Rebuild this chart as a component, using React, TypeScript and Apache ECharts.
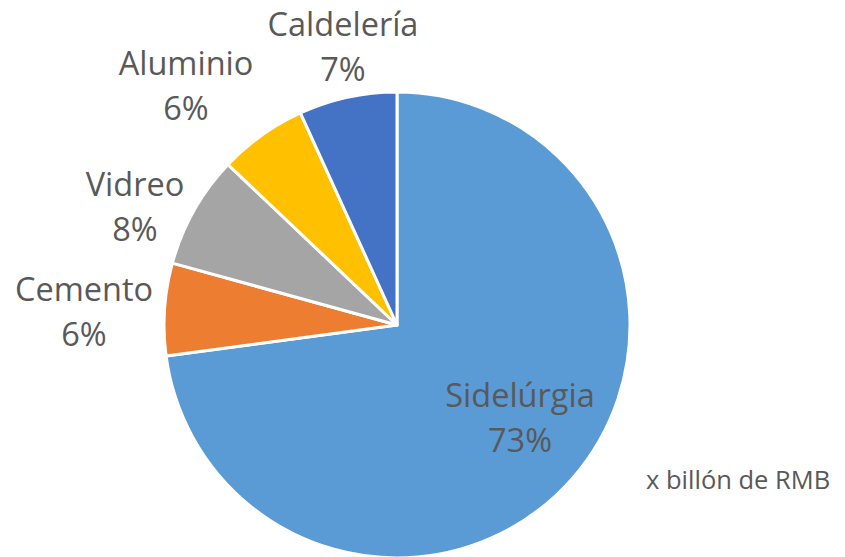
import React, { useEffect, useRef } from "react";
import * as echarts from "echarts";

const categories = ["Sidelúrgia", "Cemento", "Vidreo", "Aluminio", "Caldelería"];
const values = [72.8, 6.4, 7.8, 6.1, 6.8];
const colors = ["#5B9BD5", "#ED7D31", "#A5A5A5", "#FFC000", "#4472C4"];
const unitNote = "x billón de RMB";

// label anchor positions (layout only)
const labelPos: [number, number][] = [
  [520, 417],
  [84, 311],
  [135, 206],
  [186, 85],
  [343, 46],
];

const FONT = "Open Sans";

export default function App() {
  const ref = useRef<HTMLDivElement>(null);
  useEffect(() => {
    if (!ref.current) return;
    const chart = echarts.init(ref.current, undefined, { renderer: "svg" });
    chart.setOption({
      animation: false,
      backgroundColor: "#ffffff",
      textStyle: { fontFamily: FONT },
      graphic: [
        {
          type: "text",
          left: 646,
          top: 466,
          style: {
            text: unitNote,
            fontSize: 25.5,
            fontFamily: FONT,
            fill: "#595959",
          },
        },
      ],
      series: [
        {
          type: "pie",
          center: [397, 325],
          radius: 233,
          startAngle: 90,
          clockwise: true,
          percentPrecision: 0,
          itemStyle: { borderColor: "#ffffff", borderWidth: 3 },
          label: {
            show: true,
            position: "inside",
            formatter: "{b}\n{d}%",
            fontSize: 32.5,
            lineHeight: 45,
            color: "#595959",
            fontFamily: FONT,
            align: "center",
          },
          labelLine: { show: false },
          labelLayout: (p: any) => ({
            x: labelPos[p.dataIndex][0],
            y: labelPos[p.dataIndex][1],
            align: "center",
            verticalAlign: "middle",
          }),
          data: categories.map((c, i) => ({
            name: c,
            value: values[i],
            itemStyle: { color: colors[i] },
          })),
        },
      ],
    });
    return () => chart.dispose();
  }, []);
  return (
    <div
      ref={ref}
      style={{ position: "fixed", left: 0, top: 0, width: 845, height: 557 }}
    />
  );
}
